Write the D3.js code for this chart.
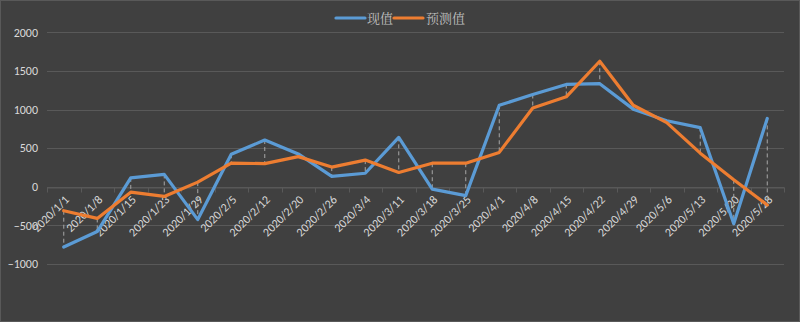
<!DOCTYPE html>
<html><head><meta charset="utf-8">
<script src="https://cdn.jsdelivr.net/npm/d3@7"></script>
<style>html,body{margin:0;padding:0;background:#404040;}svg{display:block;}</style>
</head><body>
<svg id="c" width="800" height="322"></svg>
<script>
const categories = ["2020/1/1","2020/1/8","2020/1/15","2020/1/23","2020/1/29","2020/2/5","2020/2/12","2020/2/20","2020/2/26","2020/3/4","2020/3/11","2020/3/18","2020/3/25","2020/4/1","2020/4/8","2020/4/15","2020/4/22","2020/4/29","2020/5/6","2020/5/13","2020/5/20","2020/5/28"];
const actual   = [-780,-580,115,160,-425,420,605,425,135,175,640,-30,-115,1055,1195,1325,1335,1005,855,765,-480,885];
const forecast = [-310,-410,-70,-125,60,305,300,390,255,345,185,305,305,445,1020,1165,1625,1055,830,435,90,-235];
const yTicks = [-1000,-500,0,500,1000,1500,2000];
const seriesNames = ["现值","预测值"];
const colors = ["#5B9BD5","#ED7D31"];

const svg = d3.select("#c");
svg.append("rect").attr("x",0.5).attr("y",0.5).attr("width",799).attr("height",321)
  .attr("fill","#404040").attr("stroke","#595959");

const pLeft = 47, pRight = 784, pTop = 32.3, pBottom = 264;
const x = d3.scaleBand().domain(categories).range([pLeft, pRight]);
const y = d3.scaleLinear().domain([-1000, 2000]).range([pBottom, pTop]);

// gridlines
svg.append("g").selectAll("line").data(yTicks).join("line")
  .attr("x1", pLeft).attr("x2", pRight)
  .attr("y1", d => Math.round(y(d)) + 0.5).attr("y2", d => Math.round(y(d)) + 0.5)
  .attr("stroke", "#595959").attr("stroke-width", 1);

// y axis labels
const yAxis = d3.axisLeft(y).tickValues(yTicks).tickSize(0).tickPadding(9).tickFormat(d3.format("d"));
const ya = svg.append("g").attr("transform", `translate(${pLeft},0)`).call(yAxis);
ya.select(".domain").remove();
ya.selectAll("text").attr("fill", "#d9d9d9").style("font-family", "Calibri, Carlito, 'Liberation Sans', sans-serif").style("font-size", "12px");

// x axis at 0
const y0 = Math.round(y(0)) + 0.5;
const xAxis = d3.axisBottom(x).tickSize(0).tickFormat(d => d);
const xa = svg.append("g").attr("transform", `translate(0,${y0})`).call(xAxis);
xa.select(".domain").attr("stroke", "#595959");
xa.selectAll(".tick line").remove();
const bounds = categories.map(c => x(c)).concat([pRight]);
svg.append("g").selectAll("line").data(bounds).join("line")
  .attr("x1", d => Math.round(d) + 0.5).attr("x2", d => Math.round(d) + 0.5)
  .attr("y1", y0).attr("y2", y0 + 5).attr("stroke", "#595959");
xa.selectAll(".tick text")
  .attr("fill", "#d9d9d9")
  .style("font-family", "Calibri, Carlito, 'Liberation Sans', sans-serif")
  .style("font-size", "12px")
  .attr("text-anchor", "end")
  .attr("x", 0).attr("y", 0).attr("dy", 0)
  .attr("transform", "translate(6,13) rotate(-45)");

// high-low drop lines
svg.append("g").selectAll("line").data(categories).join("line")
  .attr("x1", (c) => x(c) + x.bandwidth()/2).attr("x2", (c) => x(c) + x.bandwidth()/2)
  .attr("y1", (c, i) => y(Math.max(actual[i], forecast[i])))
  .attr("y2", (c, i) => y(Math.min(actual[i], forecast[i])))
  .attr("stroke", "#a6a6a6").attr("stroke-width", 1).attr("stroke-dasharray", "4,3");

// lines
const line = d3.line().x((d, i) => x(categories[i]) + x.bandwidth()/2).y(d => y(d));
[actual, forecast].forEach((s, k) => {
  svg.append("path").datum(s).attr("d", line).attr("fill", "none")
    .attr("stroke", colors[k]).attr("stroke-width", 3.2)
    .attr("stroke-linejoin", "round").attr("stroke-linecap", "round");
});

// legend
const lg = svg.append("g");
const legendItems = [{x0:336, tx:367}, {x0:394, tx:426}];
seriesNames.forEach((n, k) => {
  lg.append("line").attr("x1", legendItems[k].x0).attr("x2", legendItems[k].x0 + 29)
    .attr("y1", 18).attr("y2", 18).attr("stroke", colors[k]).attr("stroke-width", 3.2).attr("stroke-linecap","round");
  lg.append("text").attr("x", legendItems[k].tx).attr("y", 22.5).text(n)
    .attr("fill", "#bfbfbf").style("font-family", "'Noto Serif CJK SC','Noto Sans CJK SC', sans-serif").style("font-size", "13px");
});
</script>
</body></html>
